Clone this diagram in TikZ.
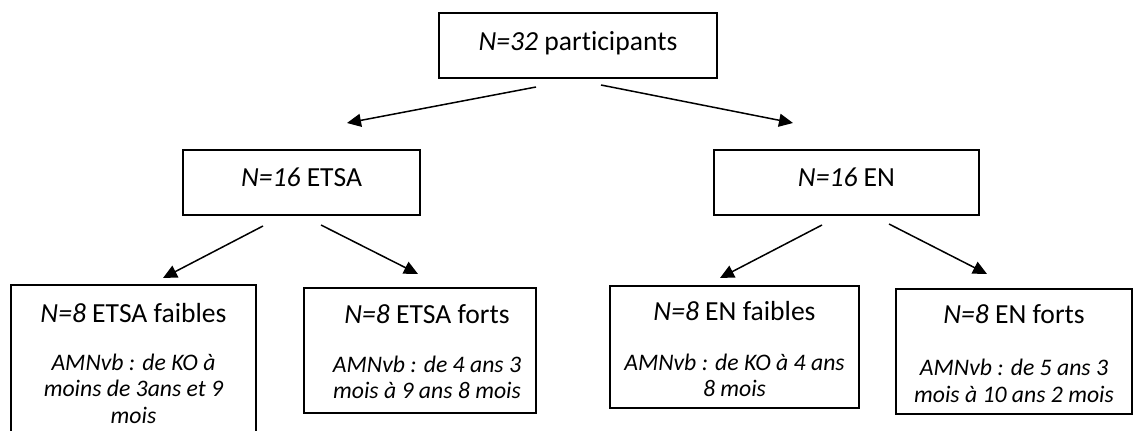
\documentclass[tikz,border=0pt]{standalone}
\usepackage{fontspec}
\setmainfont{Carlito}[Ligatures=NoCommon]
\usetikzlibrary{arrows.meta}
\begin{document}
\begin{tikzpicture}[x=1pt,y=-1pt,
 box/.style={draw=black, line width=1.3pt, inner sep=0pt},
 ttl/.style={font=\fontsize{27.6}{33}\selectfont, anchor=base, inner sep=0pt},
 sub/.style={font=\fontsize{23.7}{26.5}\selectfont\itshape, anchor=base, inner sep=0pt, align=center},
 arr/.style={line width=1.5pt, -{Triangle[length=14pt,width=13pt]}}]
\useasboundingbox (0,0) rectangle (1133,431);
% boxes
\node[box, minimum width=278pt, minimum height=65pt] (top) at (578,45.5) {};
\node[box, minimum width=237pt, minimum height=65pt] (etsa) at (301.5,182.5) {};
\node[box, minimum width=265pt, minimum height=65pt] (en) at (846.5,182.5) {};
\node[box, minimum width=245pt, minimum height=160pt] (ef) at (133.5,365) {};
\node[box, minimum width=232pt, minimum height=125pt] (eF) at (420,350.5) {};
\node[box, minimum width=249pt, minimum height=122pt] (nf) at (734.5,347) {};
\node[box, minimum width=236pt, minimum height=125pt] (nF) at (1014,351.5) {};
% texts
\node[ttl] (topt) at (578,50) {\textit{N=32} participants};
\node[ttl] (etsat) at (301.5,186) {\textit{N=16} ETSA};
\node[ttl] (ent) at (846.5,186) {\textit{N=16} EN};
\node[ttl] (eft) at (133.5,322) {\textit{N=8} ETSA faibles};
\node[sub] (efs) at (133.5,423) {AMNvb : de KO à\\moins de 3ans et 9\\mois};
\node[ttl] (eFt) at (427,323) {\textit{N=8} ETSA forts};
\node[sub] (eFs) at (427,398.5) {AMNvb : de 4 ans 3\\mois à 9 ans 8 mois};
\node[ttl] (nft) at (734.5,320) {\textit{N=8} EN faibles};
\node[sub] (nfs) at (734.5,396.5) {AMNvb : de KO à 4 ans\\8 mois};
\node[ttl] (nFt) at (1014,323) {\textit{N=8} EN forts};
\node[sub] (nFs) at (1014,402) {AMNvb : de 5 ans 3\\mois à 10 ans 2 mois};
% arrow endpoints
\coordinate (a1) at (536,87);  \coordinate (b1) at (347,123);
\coordinate (a2) at (601,85);  \coordinate (b2) at (793,123);
\coordinate (a3) at (263,226); \coordinate (b3) at (163,278);
\coordinate (a4) at (321,225); \coordinate (b4) at (418,274);
\coordinate (a5) at (822,225); \coordinate (b5) at (720,278);
\coordinate (a6) at (889,224); \coordinate (b6) at (987,274);
\draw[arr] (a1) -- (b1);
\draw[arr] (a2) -- (b2);
\draw[arr] (a3) -- (b3);
\draw[arr] (a4) -- (b4);
\draw[arr] (a5) -- (b5);
\draw[arr] (a6) -- (b6);
\end{tikzpicture}
\end{document}
